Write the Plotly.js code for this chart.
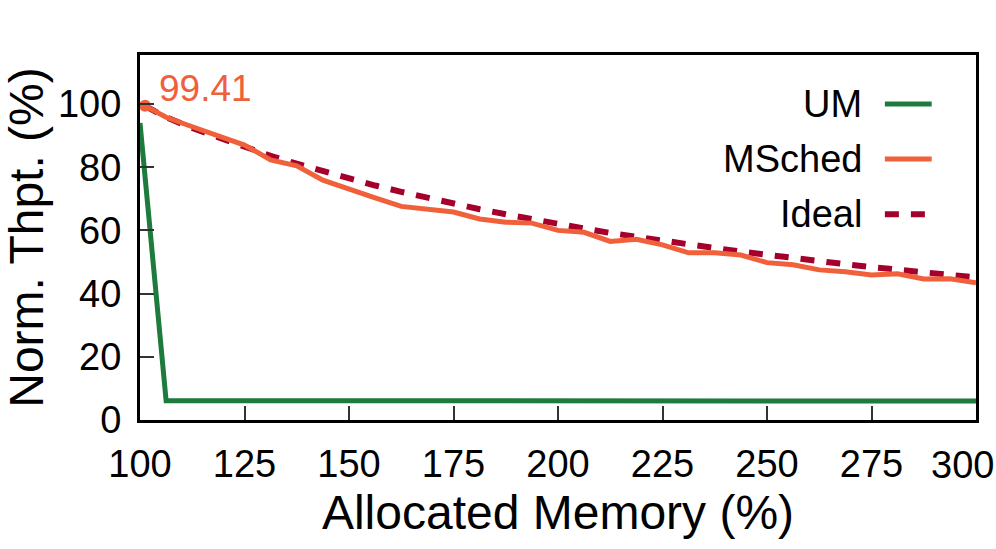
<!DOCTYPE html>
<html>
<head>
<meta charset="utf-8">
<script src="https://cdn.plot.ly/plotly-3.0.1.min.js"></script>
<style>
  html, body { margin: 0; padding: 0; background: #fff; }
  #chart { width: 996px; height: 549px; }
</style>
</head>
<body>
<div id="chart"></div>
<script>
// allocated memory (%) sample points
const memPct = [101.2, 106.25, 112.5, 118.75, 125, 131.25, 137.5, 143.75, 150, 156.25,
  162.5, 168.75, 175, 181.25, 187.5, 193.75, 200, 206.25, 212.5, 218.75, 225,
  231.25, 237.5, 243.75, 250, 256.25, 262.5, 268.75, 275, 281.25, 287.5, 293.75, 300];
const umX = [100, 106.25, 112.5, 118.75, 125, 131.25, 137.5, 143.75, 150, 156.25,
  162.5, 168.75, 175, 181.25, 187.5, 193.75, 200, 206.25, 212.5, 218.75, 225,
  231.25, 237.5, 243.75, 250, 256.25, 262.5, 268.75, 275, 281.25, 287.5, 293.75, 300];

// normalized throughput (%)
const umThpt = [94.0, 6.1, 6.1, 6.1, 6.0, 6.1, 6.1, 6.0, 6.0, 6.0, 6.0, 6.0, 6.0, 6.0,
  6.0, 6.0, 6.0, 6.0, 6.0, 6.0, 6.0, 6.0, 6.0, 6.0, 6.0, 6.0, 6.0, 6.0, 6.0, 6.0, 6.0, 6.0, 6.0];
const mschedThpt = [99.41, 95.8, 92.8, 89.7, 87.0, 82.3, 80.4, 75.9, 73.3, 70.3, 67.6,
  66.8, 65.8, 63.6, 62.6, 62.3, 60.0, 59.4, 56.5, 57.2, 55.4, 52.9, 52.9, 52.2, 49.8,
  49.1, 47.5, 46.9, 45.9, 46.3, 44.6, 44.7, 43.4];
const idealThpt = [99.4, 95.8, 92.4, 89.3, 86.4, 83.6, 81.1, 78.7, 76.4, 74.2, 72.2,
  70.3, 68.5, 66.7, 65.1, 63.5, 62.0, 60.6, 59.2, 57.9, 56.7, 55.5, 54.4, 53.3, 52.2,
  51.2, 50.2, 49.3, 48.4, 47.5, 46.7, 45.9, 45.1];

// x tick labels
const xTickVals = [100, 125, 150, 175, 200, 225, 250, 275, 300];
const xTickText = ['100', '125', '150', '175', '200', '225', '250', '275', '300'];

const seriesNames = ['UM', 'MSched', 'Ideal'];
const seriesColors = ['#1d7b3d', '#ef603b', '#a5002b'];
const seriesDash = ['solid', 'solid', '14px,12px'];
const seriesWidth = [5, 5, 6];

const FONT = 'Liberation Sans, Arial, Helvetica, sans-serif';

const traces = [
  { x: umX, y: umThpt, name: seriesNames[0], type: 'scatter', mode: 'lines',
    line: { color: seriesColors[0], width: seriesWidth[0] } },
  { x: memPct, y: idealThpt, name: seriesNames[2], type: 'scatter', mode: 'lines',
    line: { color: seriesColors[2], width: seriesWidth[2], dash: seriesDash[2] } },
  { x: memPct, y: mschedThpt, name: seriesNames[1], type: 'scatter', mode: 'lines',
    line: { color: seriesColors[1], width: seriesWidth[1] } },
  // highlighted first point
  { x: [memPct[0]], y: [mschedThpt[0]], type: 'scatter', mode: 'markers',
    marker: { color: seriesColors[1], size: 12 }, showlegend: false, cliponaxis: false }
];

// legend drawn by hand: text on the left, sample line on the right
const shapes = [];
const annotations = [];
seriesNames.forEach((name, i) => {
  const yPaper = 0.866 - i * 0.151;
  annotations.push({
    xref: 'paper', yref: 'paper', x: 0.866, y: yPaper,
    xanchor: 'right', yanchor: 'middle', showarrow: false,
    text: name, font: { family: FONT, size: 38, color: '#000' }
  });
  shapes.push({
    type: 'line', xref: 'paper', yref: 'paper',
    x0: 0.891, x1: 0.947, y0: yPaper, y1: yPaper,
    line: { color: seriesColors[i], width: seriesWidth[i], dash: seriesDash[i] }
  });
});

annotations.push({
  x: memPct[0], y: mschedThpt[0], xref: 'x', yref: 'y',
  text: mschedThpt[0].toFixed(2), showarrow: false,
  xanchor: 'left', yanchor: 'middle', xshift: 12, yshift: 17,
  font: { family: FONT, size: 37, color: seriesColors[1] }
});

// last x tick label is pulled inside the page, as in the original figure
const lastIdx = xTickVals.length - 1;
annotations.push({
  x: xTickVals[lastIdx], xref: 'x', y: 0, yref: 'paper',
  text: xTickText[lastIdx], showarrow: false,
  xanchor: 'right', yanchor: 'middle', xshift: 20, yshift: -45,
  font: { family: FONT, size: 38, color: '#000' }
});
const shownTickText = xTickText.map((t, i) => (i === lastIdx ? '' : t));

const layout = {
  width: 996, height: 549,
  margin: { l: 140, r: 20, t: 55, b: 129 },
  paper_bgcolor: '#fff', plot_bgcolor: '#fff',
  showlegend: false,
  font: { family: FONT, color: '#000' },
  xaxis: {
    range: [100, 300], tickmode: 'array', tickvals: xTickVals, ticktext: shownTickText,
    showgrid: false, zeroline: false,
    showline: true, linecolor: '#000', linewidth: 3, mirror: true,
    ticks: 'inside', ticklen: 14, tickwidth: 2, tickcolor: '#333',
    ticklabelstandoff: 8,
    tickfont: { family: FONT, size: 38 },
    title: { text: 'Allocated Memory (%)', font: { family: FONT, size: 48 }, standoff: 12 }
  },
  yaxis: {
    range: [0, 115.5], dtick: 20, tick0: 0,
    showgrid: false, zeroline: false,
    showline: true, linecolor: '#000', linewidth: 3, mirror: true,
    ticks: 'inside', ticklen: 14, tickwidth: 2, tickcolor: '#333',
    ticklabelstandoff: 8,
    tickfont: { family: FONT, size: 38 },
    title: { text: 'Norm. Thpt. (%)', font: { family: FONT, size: 48 }, standoff: 8 }
  },
  shapes: shapes,
  annotations: annotations
};

Plotly.newPlot('chart', traces, layout, { staticPlot: true, displayModeBar: false });
</script>
</body>
</html>
